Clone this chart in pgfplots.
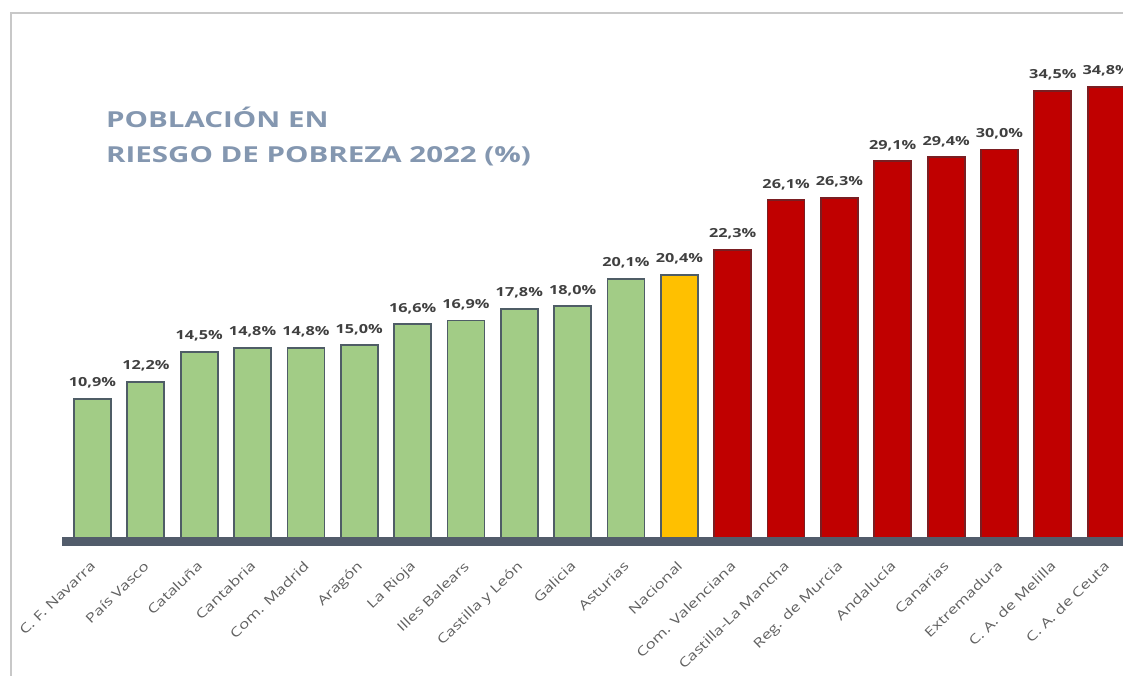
\documentclass[border=0pt]{standalone}
\usepackage{pgfplots}
\pgfplotsset{compat=1.18}
\usepackage{fontspec}
\setmainfont{Open Sans}[FakeStretch=1.3]
\newfontfamily\titlefont{Open Sans}[FakeStretch=1.34]

\definecolor{titleblue}{HTML}{8497B0}
\definecolor{barGreen}{HTML}{A2CC86}
\definecolor{barYellow}{HTML}{FFC000}
\definecolor{barRed}{HTML}{C00000}
\definecolor{barEdge}{HTML}{4F5D66}
\definecolor{redEdge}{HTML}{7A1E22}
\definecolor{baseline}{HTML}{525C6B}
\definecolor{labelgray}{HTML}{404040}
\definecolor{tickgray}{HTML}{606060}
\definecolor{framegray}{HTML}{C8C8C8}

\begin{document}
\begin{tikzpicture}[x=1pt,y=1pt]
\useasboundingbox (0,0) rectangle (1123,675);
\fill[white] (0,0) rectangle (1123,675);
% frame
\draw[framegray, line width=2pt] (11,-5) -- (11,662) -- (1130,662);

\begin{axis}[
    at={(62.1pt,134pt)}, anchor=south west,
    x=53.35pt, y=13.05pt,
    xmin=-0.57, xmax=19.35,
    ymin=0, ymax=41,
    clip=false,
    axis x line=bottom,
    axis y line=none,
    x axis line style={-, line width=9pt, color=baseline},
    axis on top,
    xtick={0,...,19},
    major tick length=0pt,
    ytick=\empty,
    xticklabels={C. F. Navarra, País Vasco, Cataluña, Cantabria, Com. Madrid,
        Aragón, La Rioja, Illes Balears, Castilla y León, Galicia, Asturias,
        Nacional, Com. Valenciana, Castilla-La Mancha, Reg. de Murcia,
        Andalucía, Canarias, Extremadura, C. A. de Melilla, C. A. de Ceuta},
    xticklabel style={xshift=-3pt, yshift=-19pt, rotate=44, anchor=north east,
        font=\fontsize{13}{15}\selectfont, text=tickgray, inner sep=0pt},
    /pgf/number format/assume math mode=true,
    nodes near coords={\pgfmathprintnumber[fixed, fixed zerofill, precision=1, use comma]{\pgfplotspointmeta}\%},
    every node near coord/.append style={anchor=base, yshift=12pt, inner sep=0pt,
        font=\bfseries\fontsize{12.5}{14}\selectfont, text=labelgray},
]
\addplot[ybar, bar width=37pt, fill=barGreen, draw=barEdge, line width=1.8pt]
    coordinates {(0,10.9) (1,12.2) (2,14.5) (3,14.8) (4,14.8) (5,15.0)
                 (6,16.6) (7,16.9) (8,17.8) (9,18.0) (10,20.1)};
\addplot[ybar, bar width=37pt, fill=barYellow, draw=barEdge, line width=1.8pt]
    coordinates {(11,20.4)};
\addplot[ybar, bar width=37pt, fill=barRed, draw=redEdge, line width=1.8pt]
    coordinates {(12,22.3) (13,26.1) (14,26.3) (15,29.1) (16,29.4)
                 (17,30.0) (18,34.5) (19,34.8)};
\end{axis}

\node[anchor=base west, inner sep=0pt, text=titleblue, font=\titlefont\bfseries\fontsize{22}{24}\selectfont]
    at (106,547) {POBLACIÓN EN};
\node[anchor=base west, inner sep=0pt, text=titleblue, font=\titlefont\bfseries\fontsize{22}{24}\selectfont]
    at (106,512) {RIESGO DE POBREZA 2022 (\%)};
\end{tikzpicture}
\end{document}
